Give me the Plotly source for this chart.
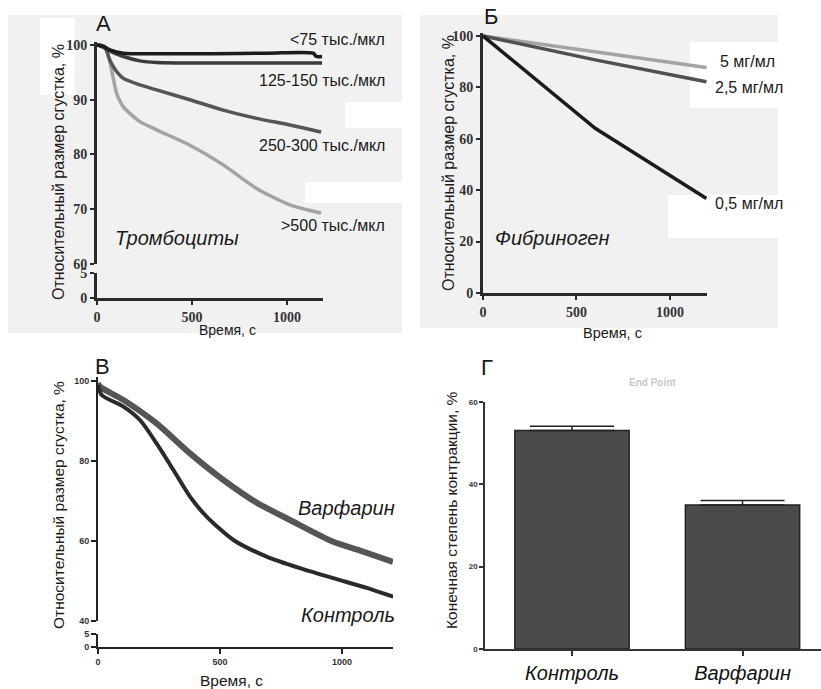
import plotly.graph_objects as go

W, H = 821, 689

# ---------------- data ----------------
# Panel А: platelets
t_a_75 = [0, 30, 68, 139, 314, 600, 900, 1138, 1155, 1185]
y_a_75 = [100, 99.8, 99.1, 98.5, 98.4, 98.4, 98.5, 98.5, 97.9, 97.9]
t_a_125 = [0, 32, 80, 139, 226, 314, 600, 900, 1185]
y_a_125 = [100, 99.6, 98.7, 97.9, 97.1, 96.8, 96.7, 96.7, 96.7]
t_a_250 = [0, 40, 68, 100, 139, 226, 314, 489, 665, 840, 1016, 1180]
y_a_250 = [100, 99.7, 97.2, 95.3, 93.9, 92.7, 91.8, 90.0, 88.1, 86.6, 85.4, 84.1]
t_a_500 = [0, 32, 50, 68, 86, 103, 139, 226, 314, 489, 665, 840, 1016, 1180]
y_a_500 = [100, 99.8, 99.0, 96.9, 93.9, 91.2, 88.7, 86.0, 84.5, 81.7, 78.1, 73.8, 70.8, 69.3]
labels_a = ["<75 тыс./мкл", "125-150 тыс./мкл", "250-300 тыс./мкл", ">500 тыс./мкл"]

# Panel Б: fibrinogen
t_b = [0, 600, 1195]
y_b_5 = [100, 93.9, 87.7]
y_b_25 = [100, 90.7, 82.2]
y_b_05 = [100, 64.1, 36.8]
labels_b = ["5 мг/мл", "2,5 мг/мл", "0,5 мг/мл"]

# Panel В: warfarin vs control kinetics
t_warf = [0, 8, 104, 240, 377, 514, 650, 787, 964, 1060, 1209]
y_warf = [99.5, 98.6, 95.25, 89.4, 81.9, 75.25, 69.6, 65.25, 59.8, 57.9, 54.8]
t_ctrl = [0, 15, 104, 172, 240, 309, 377, 445, 555, 691, 828, 964, 1101, 1210]
y_ctrl = [99, 96.5, 93.6, 90.25, 84.4, 77.75, 71.1, 66.1, 60.25, 56.1, 53.2, 50.7, 48.3, 46.1]

# Panel Г: end point
groups = ["Контроль", "Варфарин"]
end_vals = [53.1, 35.0]
end_err = [1.0, 1.1]

# ---------------- helpers ----------------
def fx(p):
    return p / W

def fy(p):
    return 1 - p / H

fig = go.Figure()

def line(x, y, xa, ya, color, width, shape='spline'):
    ln = dict(color=color, width=width, shape=shape)
    if shape == 'spline':
        ln['smoothing'] = 0.7
    fig.add_trace(go.Scatter(x=x, y=y, xaxis=xa, yaxis=ya, mode='lines', line=ln,
                             showlegend=False, hoverinfo='skip'))

# Panel А traces
line(t_a_500, y_a_500, 'x', 'y', '#a3a3a3', 3.5)
line(t_a_250, y_a_250, 'x', 'y', '#555555', 3.5)
line(t_a_125, y_a_125, 'x', 'y', '#3c3c3c', 3.5)
line(t_a_75, y_a_75, 'x', 'y', '#1c1c1c', 3.5)
fig.add_trace(go.Scatter(x=[None], y=[None], xaxis='x', yaxis='y2', showlegend=False))

# Panel Б traces
line(t_b, y_b_5, 'x2', 'y3', '#a3a3a3', 3.5, 'linear')
line(t_b, y_b_25, 'x2', 'y3', '#505050', 3.5, 'linear')
line(t_b, y_b_05, 'x2', 'y3', '#1c1c1c', 3.5, 'linear')

# Panel В traces
line(t_warf, y_warf, 'x3', 'y4', '#555555', 6)
line(t_ctrl, y_ctrl, 'x3', 'y4', '#2a2a2a', 4)
fig.add_trace(go.Scatter(x=[None], y=[None], xaxis='x3', yaxis='y5', showlegend=False))

# Panel Г bars
fig.add_trace(go.Bar(x=[0, 1], y=end_vals, xaxis='x4', yaxis='y6', width=0.67,
                     marker=dict(color='#4b4b4e', line=dict(color='#222222', width=1.5)),
                     error_y=dict(type='data', array=end_err, arrayminus=[0, 0], symmetric=False,
                                  color='#222222', thickness=1.5, width=42),
                     showlegend=False, hoverinfo='skip'))

serif_tick = dict(family='Liberation Serif', size=14, color='#333333', weight='bold')
small_tick = dict(family='Liberation Sans', size=9, color='#333333', weight='bold')

def ax(**kw):
    base = dict(showline=True, showgrid=False, zeroline=False, ticks='outside',
                fixedrange=True)
    base.update(kw)
    return base

thickA = dict(linecolor='#2a2a2a', linewidth=3, tickcolor='#2a2a2a', tickwidth=2, ticklen=4,
              tickfont=serif_tick)
thinC = dict(linecolor='#222222', linewidth=2, tickcolor='#222222', tickwidth=2, ticklen=5,
             tickfont=small_tick)

layout = dict(
    width=W, height=H, autosize=False,
    margin=dict(l=0, r=0, t=0, b=0),
    paper_bgcolor='white', plot_bgcolor='rgba(0,0,0,0)',
    template='none', showlegend=False,
    # Panel А
    xaxis=ax(domain=[fx(97), fx(323)], anchor='y2', range=[0, 1190],
             tickvals=[0, 500, 1000], **thickA),
    yaxis=ax(domain=[fy(264), fy(41.7)], anchor='x', range=[60, 100.6],
             tickvals=[60, 70, 80, 90, 100], **thickA),
    yaxis2=ax(domain=[fy(298), fy(273)], anchor='x', range=[0, 5],
              tickvals=[0, 5], **thickA),
    # Panel Б
    xaxis2=ax(domain=[fx(483), fx(707)], anchor='y3', range=[0, 1198],
              tickvals=[0, 500, 1000], **thickA),
    yaxis3=ax(domain=[fy(293), fy(33.4)], anchor='x2', range=[0, 101],
              tickvals=[0, 20, 40, 60, 80, 100], **thickA),
    # Panel В
    xaxis3=ax(domain=[fx(98), fx(393)], anchor='y5', range=[0, 1209],
              tickvals=[0, 500, 1000], **thinC),
    yaxis4=ax(domain=[fy(621), fy(377)], anchor='x3', range=[40, 101],
              tickvals=[40, 60, 80, 100], **thinC),
    yaxis5=ax(domain=[fy(647), fy(634)], anchor='x3', range=[0, 5],
              tickvals=[0, 5], **thinC),
    # Panel Г
    xaxis4=ax(domain=[fx(485), 1.0], anchor='y6', range=[-0.51, 1.46],
              tickvals=[0, 1], ticktext=groups, linecolor='#333333', linewidth=1.5,
              tickcolor='#333333', tickwidth=1.5, ticklen=5,
              tickfont=dict(family='Liberation Sans', size=20, color='#111111', style='italic')),
    yaxis6=ax(domain=[fy(649), fy(402)], anchor='x4', range=[0, 60],
              tickvals=[0, 20, 40, 60], linecolor='#333333', linewidth=1.5,
              tickcolor='#333333', tickwidth=1.5, ticklen=4,
              tickfont=dict(family='Liberation Sans', size=8, color='#333333', weight='bold')),
)

# light grey scanned backgrounds for panels А and Б, with white patches
shapes = []
def rect(x0, y0, x1, y1, color):
    shapes.append(dict(type='rect', xref='paper', yref='paper', x0=fx(x0), x1=fx(x1),
                       y0=fy(y1), y1=fy(y0), fillcolor=color, line=dict(width=0), layer='below'))
rect(8, 15, 402, 333, '#f1f1f1')
rect(420, 15, 778, 328, '#f1f1f1')
rect(40, 18, 75, 95, 'white')
rect(345, 102, 402, 128, 'white')
rect(305, 182, 402, 203, 'white')
rect(690, 42, 778, 108, 'white')
rect(668, 195, 778, 238, 'white')
layout['shapes'] = shapes

anns = []
def ann(text, x, y, size, xanchor='center', italic=False, angle=0, color='#1a1a1a',
        family='Liberation Sans', bold=False):
    f = dict(family=family, size=size, color=color)
    if italic:
        f['style'] = 'italic'
    if bold:
        f['weight'] = 'bold'
    anns.append(dict(text=text, x=fx(x), y=fy(y), xref='paper', yref='paper',
                     xanchor=xanchor, yanchor='middle', showarrow=False, font=f,
                     textangle=angle))

# panel letters
ann('А', 103, 24, 22)
ann('Б', 491, 17, 22)
ann('В', 102, 366, 22)
ann('Г', 487, 367, 22)

# Panel А texts
ann(labels_a[0], 387, 40, 16, 'right')
ann(labels_a[1], 387, 80, 16, 'right')
ann(labels_a[2], 387, 146, 16, 'right')
ann(labels_a[3], 387, 226, 16, 'right')
ann('Тромбоциты', 113, 238, 20, 'left', italic=True)
ann('Относительный размер сгустка, %', 58, 172, 16, angle=-90)
ann('Время, с', 227, 330, 14)

# Panel Б texts
ann(labels_b[0], 718, 62, 16, 'left')
ann(labels_b[1], 713, 88, 16, 'left')
ann(labels_b[2], 713, 203, 16, 'left')
ann('Фибриноген', 493, 238, 20, 'left', italic=True)
ann('Относительный размер сгустка, %', 448, 163, 16, angle=-90)
ann('Время, с', 612, 333, 14.5)

# Panel В texts
ann('Варфарин', 397, 508, 20, 'right', italic=True)
ann('Контроль', 397, 615, 20, 'right', italic=True)
ann('Относительный размер сгустка, %', 58, 505, 15.5, angle=-90)
ann('Время, с', 231, 680, 15.5)

# Panel Г texts
ann('End Point', 652, 382, 10, color='#c8c8c8', bold=True)
ann('Конечная степень контракции, %', 452, 510, 15.5, angle=-90)

layout['annotations'] = anns
fig.update_layout(**layout)
fig.write_html('out.html', config={'displayModeBar': False},
               post_script="document.body.style.margin='0px';document.body.style.overflow='hidden';")
